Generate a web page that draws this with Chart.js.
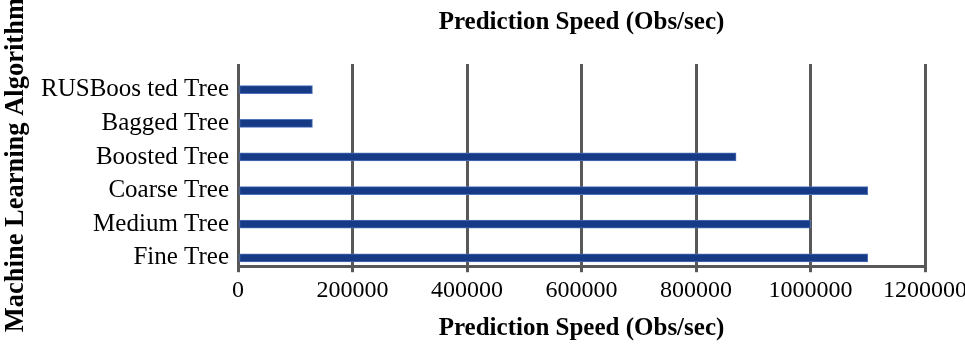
<!DOCTYPE html>
<html>
<head>
<meta charset="utf-8">
<title>Prediction Speed</title>
<script src="https://cdn.jsdelivr.net/npm/chart.js@4"></script>
<style>
  html, body { margin: 0; padding: 0; background: #fff; }
  #wrap { width: 965px; height: 344px; }
</style>
</head>
<body>
<div id="wrap"><canvas id="canvas" width="965" height="344"></canvas></div>
<script>
		// categories listed top to bottom, as in the picture
		var algorithms = ['RUSBoos ted Tree', 'Bagged Tree', 'Boosted Tree', 'Coarse Tree', 'Medium Tree', 'Fine Tree'];
		var speed = [130000, 130000, 870000, 1100000, 1000000, 1100000];
		var xTicks = [0, 200000, 400000, 600000, 800000, 1000000, 1200000];

		var gridGrey = '#585858';
		var serif = '"Liberation Serif", "Times New Roman", serif';

		var points = [];
		for (var i = 0; i < speed.length; i++) {
			points.push({ x: speed[i], y: i });
		}

		window.onload = function() {
			var ctx = document.getElementById('canvas').getContext('2d');
			window.myBar = new Chart(ctx, {
				type: 'bar',
				data: {
					datasets: [{
						label: 'Prediction Speed (Obs/sec)',
						data: points,
						backgroundColor: '#173a87',
						borderColor: '#4d72b8',
						borderWidth: 1,
						borderSkipped: false,
						barThickness: 8
					}]
				},
				options: {
					indexAxis: 'y',
					responsive: false,
					animation: false,
					layout: { padding: { left: 0, right: 40, top: 0, bottom: 0 } },
					plugins: {
						legend: { display: false },
						tooltip: { enabled: false }
					},
					scales: {
						x: {
							type: 'linear',
							position: 'bottom',
							min: 0,
							max: 1200000,
							afterBuildTicks: function(scale) {
								scale.ticks = xTicks.map(function(v) { return { value: v }; });
							},
							afterFit: function(scale) {
								scale.paddingRight = 0;
							},
							grid: { color: gridGrey, lineWidth: 3, tickLength: 6, tickColor: gridGrey },
							border: { display: true, color: gridGrey, width: 3 },
							ticks: {
								color: '#000',
								padding: 4,
								maxRotation: 0,
								font: { family: serif, size: 24 },
								callback: function(v) { return String(v); }
							},
							title: {
								display: true,
								text: 'Prediction Speed (Obs/sec)',
								color: '#000',
								padding: { top: 5, bottom: 0 },
								font: { family: serif, size: 25, weight: 'bold' }
							}
						},
						xTop: {
							type: 'linear',
							position: 'top',
							min: 0,
							max: 1200000,
							grid: { display: false, drawTicks: false },
							border: { display: false },
							ticks: { display: false },
							title: {
								display: true,
								text: 'Prediction Speed (Obs/sec)',
								color: '#000',
								padding: { top: 8, bottom: 26 },
								font: { family: serif, size: 25, weight: 'bold' }
							}
						},
						y: {
							type: 'linear',
							reverse: true,
							offset: false,
							min: -0.764,
							max: 5.249,
							afterBuildTicks: function(scale) {
								scale.ticks = algorithms.map(function(c, i) { return { value: i }; });
							},
							afterFit: function(scale) {
								scale.width = 238;
							},
							grid: { display: false, drawTicks: false },
							border: { display: false },
							ticks: {
								color: '#000',
								padding: 9,
								font: { family: serif, size: 25 },
								callback: function(v) { return algorithms[v]; }
							},
							title: {
								display: true,
								text: 'Machine Learning Algorithm',
								color: '#000',
								padding: { top: 0, bottom: 0 },
								font: { family: serif, size: 26.5, weight: 'bold' }
							}
						}
					}
				}
			});
		};
</script>
</body>
</html>
